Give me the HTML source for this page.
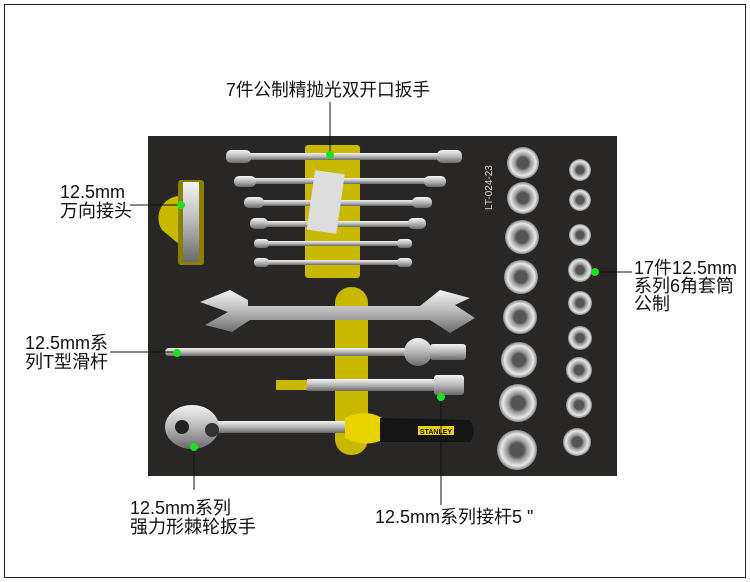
<!DOCTYPE html>
<html><head><meta charset="utf-8"><style>
html,body{margin:0;padding:0;background:#fff;width:750px;height:582px;overflow:hidden}
svg text{font-family:"Liberation Sans","Noto Sans CJK SC",sans-serif;fill:#111}
</style></head><body>
<svg width="750" height="582" viewBox="0 0 750 582" xmlns="http://www.w3.org/2000/svg">
<defs>
<linearGradient id="met" x1="0" y1="0" x2="0" y2="1"><stop offset="0" stop-color="#f4f4f4"/><stop offset="0.5" stop-color="#b8b8b8"/><stop offset="1" stop-color="#6a6a6a"/></linearGradient>
<radialGradient id="sock"><stop offset="0.35" stop-color="#555"/><stop offset="0.5" stop-color="#999"/><stop offset="0.8" stop-color="#e8e8e8"/><stop offset="1" stop-color="#888"/></radialGradient>
</defs>
<rect x="4.5" y="4.5" width="741" height="573" fill="none" stroke="#222" stroke-width="1"/>
<rect x="148" y="136" width="469" height="340" fill="#282725"/>
<rect x="305" y="145" width="55" height="133" rx="3" fill="#c9b800"/>
<rect x="335" y="287" width="33" height="168" rx="16" fill="#c9b800"/>
<path d="M162 230 A22 22 0 0 1 180 196 L180 245 Z" fill="#c9b800"/>
<rect x="178" y="180" width="26" height="85" rx="3" fill="#8a8000"/>
<rect x="183" y="182" width="16" height="80" fill="url(#met)"/>
<g fill="url(#met)">
<rect x="226" y="153" width="236" height="7" rx="3"/><rect x="226" y="150" width="25" height="13" rx="5"/><rect x="437" y="150" width="25" height="13" rx="5"/>
<rect x="234" y="178" width="212" height="6" rx="3"/><rect x="234" y="176" width="22" height="11" rx="5"/><rect x="424" y="176" width="22" height="11" rx="5"/>
<rect x="244" y="200" width="188" height="6" rx="3"/><rect x="244" y="197" width="20" height="11" rx="5"/><rect x="412" y="197" width="20" height="11" rx="5"/>
<rect x="250" y="221" width="176" height="6" rx="3"/><rect x="250" y="218" width="18" height="11" rx="5"/><rect x="408" y="218" width="18" height="11" rx="5"/>
<rect x="254" y="241" width="158" height="5" rx="2"/><rect x="254" y="239" width="15" height="9" rx="4"/><rect x="397" y="239" width="15" height="9" rx="4"/>
<rect x="254" y="260" width="158" height="5" rx="2"/><rect x="254" y="258" width="15" height="9" rx="4"/><rect x="397" y="258" width="15" height="9" rx="4"/>
</g>
<rect x="311" y="172" width="30" height="60" fill="#ddd" transform="rotate(8 326 200)"/>
<path d="M200 302 L230 290 L248 300 L248 306 L420 306 L440 290 L470 298 L455 305 L475 318 L450 333 L430 320 L250 320 L232 332 L205 325 L228 312 Z" fill="url(#met)"/>
<rect x="165" y="348" width="300" height="8" rx="4" fill="url(#met)"/>
<circle cx="418" cy="352" r="14" fill="url(#met)"/>
<rect x="430" y="344" width="36" height="16" rx="3" fill="url(#met)"/>
<rect x="276" y="380" width="100" height="10" fill="#c9b800"/>
<rect x="307" y="379" width="130" height="12" fill="url(#met)"/>
<rect x="434" y="375" width="30" height="20" rx="3" fill="url(#met)"/>
<rect x="200" y="421" width="150" height="12" fill="url(#met)"/>
<ellipse cx="192" cy="427" rx="27" ry="22" fill="url(#met)"/>
<circle cx="182" cy="427" r="7" fill="#222"/><circle cx="212" cy="430" r="7" fill="#333"/>
<path d="M345 418 Q365 408 382 418 L382 440 Q365 448 345 438 Z" fill="#e8d200"/>
<path d="M380 418 L470 420 Q478 430 470 442 L380 442 Z" fill="#151515"/>
<rect x="418" y="426" width="36" height="9" fill="#e8d200"/>
<text x="436" y="434" font-size="7" text-anchor="middle" font-weight="bold" style="fill:#111">STANLEY</text>
<g fill="url(#sock)">
<circle cx="523" cy="163" r="16"/><circle cx="523" cy="198" r="16"/><circle cx="522" cy="237" r="17"/><circle cx="521" cy="277" r="17"/><circle cx="520" cy="317" r="17"/><circle cx="519" cy="360" r="18"/><circle cx="518" cy="403" r="19"/><circle cx="517" cy="450" r="20"/>
<circle cx="580" cy="170" r="11"/><circle cx="580" cy="200" r="11"/><circle cx="580" cy="235" r="11"/><circle cx="580" cy="270" r="12"/><circle cx="580" cy="303" r="12"/><circle cx="580" cy="338" r="12"/><circle cx="579" cy="370" r="13"/><circle cx="579" cy="405" r="13"/><circle cx="577" cy="442" r="14"/>
</g>
<text x="0" y="0" font-size="10" style="fill:#ddd" transform="translate(492 210) rotate(-90)">LT-024-23</text>
<g stroke="#111" stroke-width="1" fill="none">
<line x1="330" y1="102" x2="330" y2="155"/>
<line x1="130" y1="205" x2="181" y2="205"/>
<line x1="110" y1="352" x2="177" y2="352"/>
<line x1="595" y1="272" x2="632" y2="272"/>
<line x1="441" y1="397" x2="441" y2="505"/>
<line x1="194" y1="447" x2="194" y2="490"/>
</g>
<g fill="#1fe01f">
<circle cx="330" cy="155" r="4"/><circle cx="181" cy="205" r="4"/><circle cx="177" cy="353" r="4"/><circle cx="595" cy="272" r="4"/><circle cx="441" cy="397" r="4"/><circle cx="194" cy="447" r="4"/>
</g>
<g font-size="18">
<text x="226" y="96" textLength="204" lengthAdjust="spacingAndGlyphs">7件公制精抛光双开口扳手</text>
<text x="60" y="198">12.5mm</text><text x="60" y="217">万向接头</text>
<text x="25" y="349">12.5mm系</text><text x="25" y="368">列T型滑杆</text>
<text x="634" y="274">17件12.5mm</text><text x="634" y="292">系列6角套筒</text><text x="634" y="310">公制</text>
<text x="130" y="514">12.5mm系列</text><text x="130" y="533">强力形棘轮扳手</text>
<text x="375" y="523">12.5mm系列接杆5 "</text>
</g>
</svg>
</body></html>
